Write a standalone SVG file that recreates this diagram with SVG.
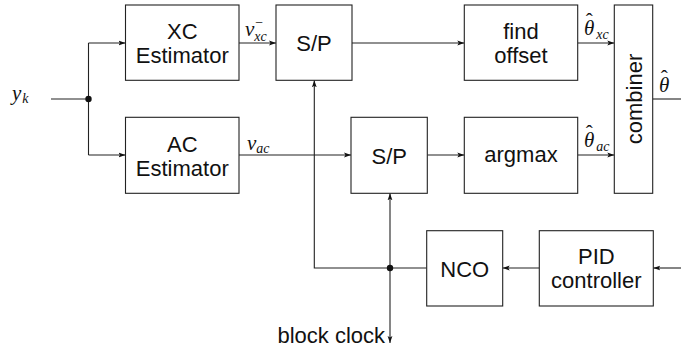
<svg xmlns="http://www.w3.org/2000/svg" width="681" height="351" viewBox="0 0 681 351">
<style>
.box{fill:#fff;stroke:#222;stroke-width:1.1}
.t{font-family:"Liberation Sans",Arial,sans-serif;font-size:22px;fill:#111;text-anchor:middle}
.m{font-family:"Liberation Serif","Times New Roman",serif;font-style:italic;fill:#111;font-size:21px}
.s{font-size:14px}
.h{font-style:normal}
.c{fill:none;stroke:#222;stroke-width:1.1}
</style>
<defs>
<marker id="ar" markerUnits="userSpaceOnUse" markerWidth="8" markerHeight="6" refX="7" refY="3" orient="auto">
<path d="M0,0.6 L7,3 L0,5.4 L1.5,3 z" fill="#111"/>
</marker>
</defs>
<g id="connectors">
<path class="c" d="M51,99 H88.5"/>
<path class="c" d="M88.5,43 V155"/>
<path class="c" d="M88.5,43 H125.5" marker-end="url(#ar)"/>
<path class="c" d="M88.5,155 H125.5" marker-end="url(#ar)"/>
<path class="c" d="M239,43 H276" marker-end="url(#ar)"/>
<path class="c" d="M239,155 H351" marker-end="url(#ar)"/>
<path class="c" d="M352,43 H464.3" marker-end="url(#ar)"/>
<path class="c" d="M427.3,155 H464.3" marker-end="url(#ar)"/>
<path class="c" d="M577.7,43 H614.3" marker-end="url(#ar)"/>
<path class="c" d="M577.7,155 H614.3" marker-end="url(#ar)"/>
<path class="c" d="M652.7,99 H681"/>
<path class="c" d="M681,268 H653.3" marker-end="url(#ar)"/>
<path class="c" d="M539.3,268 H502.7" marker-end="url(#ar)"/>
<path class="c" d="M426.7,268 H314.3 V80.3" marker-end="url(#ar)"/>
<path class="c" d="M390,268 V193.3" marker-end="url(#ar)"/>
<path class="c" d="M390,268 V343" marker-end="url(#ar)"/>
<circle cx="88.5" cy="99" r="3.2" fill="#111"/>
<circle cx="390" cy="268" r="3.2" fill="#111"/>
</g>
<g id="xc-estimator">
<rect class="box" x="125.5" y="5" width="113.5" height="75.3"/>
<text class="t" x="182.3" y="39">XC</text>
<text class="t" x="182.3" y="63">Estimator</text>
</g>
<g id="ac-estimator">
<rect class="box" x="125.5" y="117.3" width="113.5" height="76"/>
<text class="t" x="182.3" y="151.5">AC</text>
<text class="t" x="182.3" y="175.5">Estimator</text>
</g>
<g id="sp-top">
<rect class="box" x="276" y="5" width="76" height="75.3"/>
<text class="t" x="314" y="51">S/P</text>
</g>
<g id="sp-bottom">
<rect class="box" x="351" y="117.3" width="76.3" height="76"/>
<text class="t" x="389.2" y="163.5">S/P</text>
</g>
<g id="find-offset">
<rect class="box" x="464.3" y="5" width="113.4" height="75.3"/>
<text class="t" x="521" y="39">find</text>
<text class="t" x="521" y="63">offset</text>
</g>
<g id="argmax">
<rect class="box" x="464.3" y="117.3" width="113.4" height="76"/>
<text class="t" x="521" y="162">argmax</text>
</g>
<g id="combiner">
<rect class="box" x="614.3" y="5" width="38.4" height="188.3"/>
<text class="t" transform="translate(641.5,99) rotate(-90)" x="0" y="0">combiner</text>
</g>
<g id="nco">
<rect class="box" x="426.7" y="230.7" width="76" height="75.3"/>
<text class="t" x="464.7" y="276.5">NCO</text>
</g>
<g id="pid">
<rect class="box" x="539.3" y="230.7" width="114" height="75.3"/>
<text class="t" x="596.3" y="263.5">PID</text>
<text class="t" x="596.3" y="287.5">controller</text>
</g>
<g id="labels">
<text class="m" x="12" y="100">y<tspan class="s" dx="1" dy="3">k</tspan></text>
<text class="m" x="245" y="36">v<tspan class="s h" dx="1" dy="-9">−</tspan><tspan class="s" dx="-9" dy="14">xc</tspan></text>
<text class="m" x="247" y="150">v<tspan class="s" dy="3">ac</tspan></text>
<text class="m" x="584" y="35">θ<tspan class="h" dx="-8.5" dy="-7">ˆ</tspan><tspan class="s" dx="3.5" dy="11">xc</tspan></text>
<text class="m" x="584" y="147">θ<tspan class="h" dx="-8.5" dy="-7">ˆ</tspan><tspan class="s" dx="3.5" dy="11">ac</tspan></text>
<text class="m" x="659" y="92">θ<tspan class="h" dx="-8.5" dy="-7">ˆ</tspan></text>
<text class="t" x="385" y="343" style="text-anchor:end">block clock</text>
</g>
</svg>
